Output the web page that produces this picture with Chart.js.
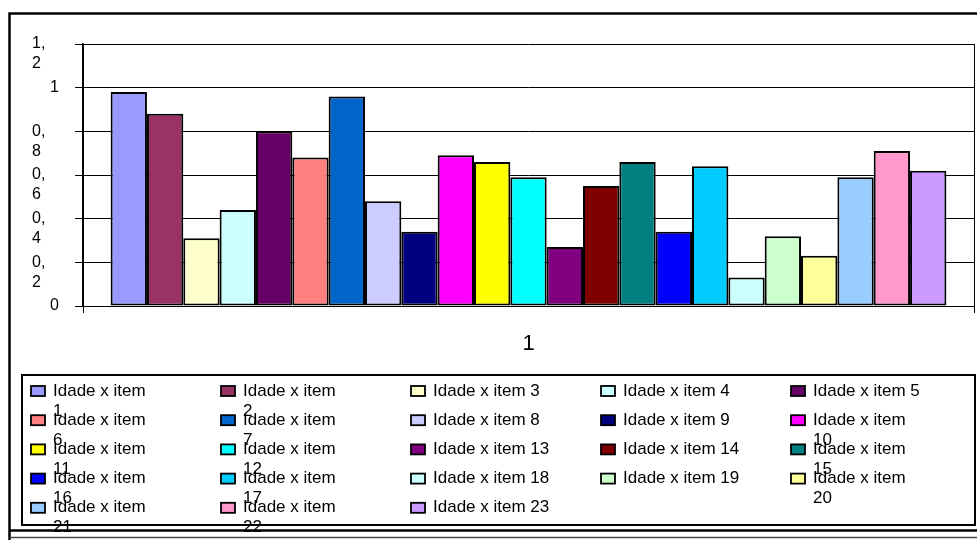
<!DOCTYPE html>
<html>
<head>
<meta charset="utf-8">
<title>Idade x item</title>
<script src="https://cdn.jsdelivr.net/npm/chart.js@4/dist/chart.umd.min.js"></script>
<style>
  html, body { margin: 0; padding: 0; background: #fff; overflow: hidden; }
  canvas { display: block; }
</style>
</head>
<body>
<canvas id="c" width="977" height="540"></canvas>
<script>
// Category on the x axis
const categories = ['1'];

// One series per item
const seriesNames = [
  'Idade x item 1', 'Idade x item 2', 'Idade x item 3', 'Idade x item 4', 'Idade x item 5',
  'Idade x item 6', 'Idade x item 7', 'Idade x item 8', 'Idade x item 9', 'Idade x item 10',
  'Idade x item 11', 'Idade x item 12', 'Idade x item 13', 'Idade x item 14', 'Idade x item 15',
  'Idade x item 16', 'Idade x item 17', 'Idade x item 18', 'Idade x item 19', 'Idade x item 20',
  'Idade x item 21', 'Idade x item 22', 'Idade x item 23'
];

const seriesValues = [
  0.98, 0.88, 0.31, 0.44, 0.80,
  0.68, 0.96, 0.48, 0.34, 0.69,
  0.66, 0.59, 0.27, 0.55, 0.66,
  0.34, 0.64, 0.13, 0.32, 0.23,
  0.59, 0.71, 0.62
];

const seriesColors = [
  '#9999FF', '#993366', '#FFFFCC', '#CCFFFF', '#660066',
  '#FF8080', '#0066CC', '#CCCCFF', '#000080', '#FF00FF',
  '#FFFF00', '#00FFFF', '#800080', '#800000', '#008080',
  '#0000FF', '#00CCFF', '#CCFFFF', '#CCFFCC', '#FFFF99',
  '#99CCFF', '#FF99CC', '#CC99FF'
];

// Value axis labels (decimal comma, wrapped as in the narrow label column)
const yTickLabels = [['0'], ['0,', '2'], ['0,', '4'], ['0,', '6'], ['0,', '8'], ['1'], ['1,', '2']];

const FONT = '"Liberation Sans", Arial, sans-serif';

// Legend layout: five columns, each with its own wrap width
const legendCols = 5;
const legendColWrap = [100, 100, 160, 160, 112];

function wrapText(ctx, text, maxW) {
  const words = text.split(' ');
  const lines = [];
  let cur = '';
  for (const w of words) {
    const test = cur ? cur + ' ' + w : w;
    if (cur && ctx.measureText(test).width > maxW) {
      lines.push(cur);
      cur = w;
    } else {
      cur = test;
    }
  }
  if (cur) lines.push(cur);
  return lines;
}

const framePlugin = {
  id: 'frameAndLegend',
  beforeDraw(chart) {
    const ctx = chart.ctx;
    ctx.save();
    ctx.fillStyle = '#ffffff';
    ctx.fillRect(0, 0, chart.width, chart.height);
    // outer chart frame
    ctx.strokeStyle = '#000';
    ctx.lineWidth = 2.5;
    ctx.beginPath();
    ctx.moveTo(9.5, 540);
    ctx.lineTo(9.5, 13.5);
    ctx.lineTo(977, 13.5);
    ctx.moveTo(9.5, 530.5);
    ctx.lineTo(977, 530.5);
    ctx.stroke();
    ctx.strokeStyle = '#444';
    ctx.lineWidth = 1.5;
    ctx.beginPath();
    ctx.moveTo(9.5, 537.5);
    ctx.lineTo(977, 537.5);
    ctx.stroke();
    ctx.restore();
  },
  afterDraw(chart) {
    const ctx = chart.ctx;
    ctx.save();

    // value axis labels
    const ys = chart.scales.y;
    ctx.font = '16px ' + FONT;
    ctx.fillStyle = '#000';
    ctx.textBaseline = 'middle';
    ys.ticks.forEach((t, i) => {
      const lines = yTickLabels[i];
      if (!lines) return;
      const py = ys.getPixelForValue(t.value);
      if (lines.length === 1) {
        ctx.textAlign = 'right';
        ctx.fillText(lines[0], 59, py);
      } else {
        ctx.textAlign = 'left';
        lines.forEach((ln, k) => ctx.fillText(ln, 32, py + k * 20));
      }
    });

    // legend box
    ctx.strokeStyle = '#000';
    ctx.lineWidth = 2;
    ctx.strokeRect(22, 375, 953, 150);

    // legend entries
    ctx.font = '17px ' + FONT;
    ctx.textAlign = 'left';
    ctx.textBaseline = 'middle';
    chart.data.datasets.forEach((ds, i) => {
      const col = i % legendCols;
      const row = Math.floor(i / legendCols);
      const sx = 31 + col * 190;
      const cy = 391 + row * 29.2;
      ctx.fillStyle = ds.backgroundColor;
      ctx.fillRect(sx, cy - 5, 14, 10);
      ctx.strokeStyle = '#000';
      ctx.lineWidth = 1.8;
      ctx.strokeRect(sx, cy - 5, 14, 10);
      ctx.fillStyle = '#000';
      const lines = wrapText(ctx, ds.label, legendColWrap[col]);
      lines.forEach((ln, k) => ctx.fillText(ln, sx + 22, cy + k * 20));
    });
    ctx.restore();
  }
};

const datasets = seriesNames.map((name, i) => ({
  label: name,
  data: [seriesValues[i]],
  backgroundColor: seriesColors[i],
  borderColor: '#000',
  borderWidth: 2,
  borderSkipped: false,
  categoryPercentage: 0.938,
  barPercentage: 1
}));

new Chart(document.getElementById('c'), {
  type: 'bar',
  data: { labels: categories, datasets },
  options: {
    responsive: false,
    animation: false,
    devicePixelRatio: 1,
    layout: { padding: { left: 0, top: 44, right: 3, bottom: 0 } },
    plugins: {
      legend: { display: false },
      tooltip: { enabled: false },
      title: { display: false }
    },
    scales: {
      x: {
        offset: true,
        grid: {
          offset: true,
          color: '#000',
          lineWidth: 1,
          drawOnChartArea: true,
          drawTicks: true,
          tickLength: 7,
          tickColor: '#000'
        },
        border: { display: true, color: '#000', width: 1 },
        ticks: {
          color: '#000',
          font: { family: FONT, size: 22 },
          padding: 18,
          maxRotation: 0
        },
        afterFit(s) { s.height = 540 - 306; }
      },
      y: {
        min: 0,
        max: 1.2,
        ticks: { stepSize: 0.2, display: false },
        grid: {
          color: '#000',
          lineWidth: 1,
          drawTicks: true,
          tickLength: 8,
          tickColor: '#000'
        },
        border: { display: true, color: '#000', width: 1.5 },
        afterFit(s) { s.width = 83; }
      }
    }
  },
  plugins: [framePlugin]
});
</script>
</body>
</html>
